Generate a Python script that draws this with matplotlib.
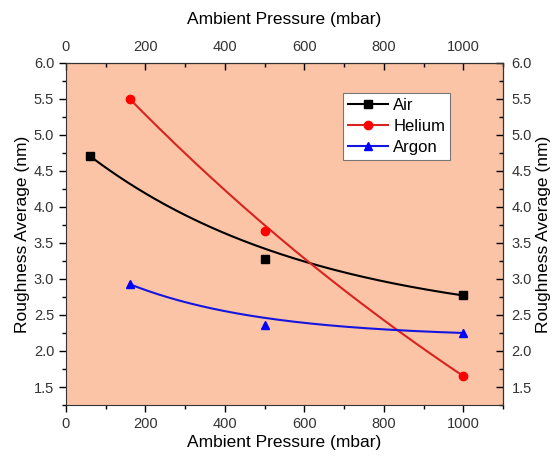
#! /usr/bin/env python3

import numpy as np
import matplotlib
matplotlib.use('Agg')
from matplotlib import pyplot as plt, ticker as mticker
from matplotlib.lines import Line2D

plt.rcParams['font.family'] = ['Liberation Sans', 'DejaVu Sans']

# measured points
airP = [60, 500, 1000]
airRa = [4.71, 3.28, 2.77]
heliumP = [160, 500, 1000]
heliumRa = [5.50, 3.67, 1.65]
argonP = [160, 500, 1000]
argonRa = [2.93, 2.36, 2.25]

# exponential decay fits y = y0 + A*exp(-x/t)
airFit = [2.301, 2.670, 575.0]
heliumFit = [-5.725, 12.16, 2000.0]
argonFit = [2.187, 1.186, 340.0]

xMajor = [0, 200, 400, 600, 800, 1000]
xMinor = [100, 300, 500, 700, 900, 1100]
yMajor = [1.5, 2.0, 2.5, 3.0, 3.5, 4.0, 4.5, 5.0, 5.5, 6.0]
yMinor = [1.25, 1.75, 2.25, 2.75, 3.25, 3.75, 4.25, 4.75, 5.25, 5.75]

series = [
    ('Air', airP, airRa, airFit, 's', 'black', 'black'),
    ('Helium', heliumP, heliumRa, heliumFit, 'o', '#d8231f', '#ff0000'),
    ('Argon', argonP, argonRa, argonFit, '^', '#1515e0', '#0000ff'),
]

fig = plt.figure(figsize=(5.53, 4.65), dpi=100)
ax = fig.add_axes([0.1193, 0.129, 0.7906, 0.736])
ax.set_facecolor('#fbc4a6')

handles = []
for name, px, py, fit, mk, lc, mc in series:
    y0, A, t = fit
    xs = np.linspace(px[0], px[-1], 200)
    ax.plot(xs, y0 + A * np.exp(-xs / t), '-', color=lc, lw=1.5, zorder=2)
    ax.plot(px, py, mk, color=mc, ms=6, ls='none', zorder=3)
    handles.append(Line2D([], [], color=lc, lw=1.5, marker=mk, mfc=mc, mec=mc, ms=6, label=name))

ax.set_xlim(0, 1100)
ax.set_ylim(1.25, 6.0)
ax.set_xticks(xMajor)
ax.set_xticks(xMinor, minor=True)
ax.set_yticks(yMajor)
ax.set_yticks(yMinor, minor=True)
ax.yaxis.set_major_formatter(mticker.FormatStrFormatter('%.1f'))
ax.tick_params(which='major', direction='out', length=5, width=1, labelsize=10.5, labelcolor='#333333')
ax.tick_params(which='minor', direction='out', length=3, width=1)
ax.set_xlabel('Ambient Pressure (mbar)', fontsize=12.5, labelpad=3)
ax.set_ylabel('Roughness Average (nm)', fontsize=12.5, labelpad=3)
for sp in ax.spines.values():
    sp.set_color('#333333')

axTop = ax.secondary_xaxis('top')
axTop.set_xticks(xMajor)
axTop.set_xticks(xMinor, minor=True)
axTop.tick_params(which='major', direction='in', length=5, width=1, labelsize=10.5, pad=6, labelcolor='#333333')
axTop.tick_params(which='minor', direction='in', length=3, width=1)
axTop.set_xlabel('Ambient Pressure (mbar)', fontsize=12.5, labelpad=12)

axRight = ax.secondary_yaxis('right')
axRight.set_yticks(yMajor)
axRight.set_yticks(yMinor, minor=True)
axRight.yaxis.set_major_formatter(mticker.FormatStrFormatter('%.1f'))
axRight.tick_params(which='major', direction='in', length=5, width=1, labelsize=10.5, pad=6, labelcolor='#333333')
axRight.tick_params(which='minor', direction='in', length=3, width=1)
axRight.set_ylabel('Roughness Average (nm)', fontsize=12.5, labelpad=3)

leg = ax.legend(handles=handles, loc='upper left', bbox_to_anchor=(0.634, 0.911),
                borderaxespad=0, fontsize=12, fancybox=False, framealpha=1,
                edgecolor='#777777', handlelength=2.4, handletextpad=0.3,
                labelspacing=0.35, borderpad=0.3)
leg.get_frame().set_linewidth(0.8)

fig.savefig('out.png', dpi=100)
